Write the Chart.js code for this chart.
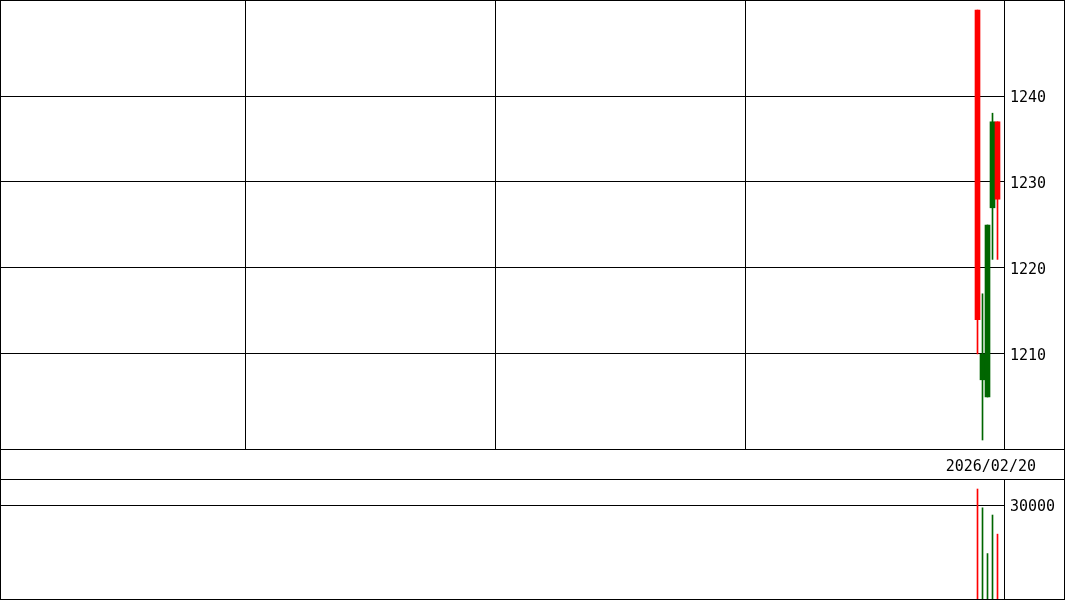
<!DOCTYPE html>
<html lang="ja">
<head>
  <meta charset="UTF-8" />
  <title>株価チャート 2026/02/20</title>
  <script src="https://cdn.jsdelivr.net/npm/chart.js"></script>
  <style>
    html, body { margin: 0; padding: 0; background: #fff; }
    #wrap { position: relative; width: 1065px; height: 600px; overflow: hidden; background: #fff; }
    #priceChart { position: absolute; left: 0; top: 0; }
    #volumeChart { position: absolute; left: 0; top: 480px; }
    #dateBar {
      position: absolute; left: 0; top: 449px; width: 1065px; height: 31px;
      box-sizing: border-box; border-top: 1px solid #000; border-bottom: 1px solid #000;
      font: 15px "DejaVu Sans Mono", monospace; color: #000; overflow: hidden;
      text-align: right; padding-right: 29px; line-height: 32px;
    }
    #frame { position: absolute; left: 0; top: 0; width: 1065px; height: 600px; box-sizing: border-box; border: 1px solid #000; pointer-events: none; }
  </style>
</head>
<body>
<div id="wrap">
  <canvas id="priceChart" width="1065" height="450"></canvas>
  <div id="dateBar"></div>
  <canvas id="volumeChart" width="1065" height="120"></canvas>
  <div id="frame"></div>
</div>

<script>
  // daily candles (yen) and volume
  const dates   = ["2026/02/16", "2026/02/17", "2026/02/18", "2026/02/19", "2026/02/20"];
  const opens   = [1250, 1207, 1205, 1227, 1237];
  const highs   = [1250, 1217, 1225, 1238, 1237];
  const lows    = [1210, 1200, 1205, 1221, 1221];
  const closes  = [1214, 1210, 1225, 1237, 1228];
  const volumes = [35100, 29100, 14500, 26800, 20700];

  const priceTicks  = [1210, 1220, 1230, 1240];
  const volumeTicks = [30000];
  const dividerSlots = [49, 99, 149];   // vertical separators in the price panel

  const GREEN = "#006600";
  const RED = "#ff0000";
  const FONT = { family: "DejaVu Sans Mono", size: 15 };

  // the plot holds 200 day slots of 5px; the data sits in the last ones
  const SLOT_MIN = -0.05;
  const SLOT_MAX = 200.8;
  const xs = dates.map((d, i) => 200 - dates.length + i + 0.5);
  const colors = closes.map((c, i) => c >= opens[i] ? GREEN : RED);

  document.getElementById("dateBar").textContent = dates[dates.length - 1];

  function xAxis(showGrid) {
    return {
      type: "linear", min: SLOT_MIN, max: SLOT_MAX, offset: false,
      grid: { display: showGrid, offset: false, color: "#000", lineWidth: 1, drawTicks: false },
      border: { display: showGrid, color: "#000" },
      ticks: { display: false },
      afterBuildTicks: s => { s.ticks = showGrid ? dividerSlots.map(v => ({ value: v })) : []; },
      afterFit: s => { s.height = 1; s.paddingLeft = 0; s.paddingRight = 0; }
    };
  }

  function yAxis(min, max, ticks) {
    return {
      position: "right", min: min, max: max, beginAtZero: false,
      grid: { color: "#000", lineWidth: 1, drawTicks: false },
      border: { display: true, color: "#000" },
      ticks: { color: "#000", padding: 6, labelOffset: 2, font: FONT, callback: v => String(v) },
      afterBuildTicks: s => { s.ticks = ticks.map(v => ({ value: v })); },
      afterFit: s => { s.width = 61; s.paddingTop = 0; s.paddingBottom = 0; }
    };
  }

  const common = {
    responsive: false,
    animation: false,
    devicePixelRatio: 1,
    layout: { padding: 0 },
    plugins: { legend: { display: false }, tooltip: { enabled: false } }
  };

  new Chart(document.getElementById("priceChart"), {
    type: "bar",
    data: {
      datasets: [
        {
          label: "body",
          data: xs.map((x, i) => ({ x: x, y: [opens[i], closes[i]] })),
          backgroundColor: colors, borderWidth: 0,
          barThickness: 5, grouped: false, order: 1
        },
        {
          label: "wick",
          data: xs.map((x, i) => ({ x: x, y: [lows[i], highs[i]] })),
          backgroundColor: colors, borderWidth: 0,
          barThickness: 1, grouped: false, order: 2
        }
      ]
    },
    options: Object.assign({}, common, {
      scales: { x: xAxis(true), y: yAxis(1198.953, 1251.163, priceTicks) }
    })
  });

  new Chart(document.getElementById("volumeChart"), {
    type: "bar",
    data: {
      datasets: [{
        label: "volume",
        data: xs.map((x, i) => ({ x: x, y: volumes[i] })),
        backgroundColor: colors, borderWidth: 0,
        barThickness: 1, grouped: false
      }]
    },
    options: Object.assign({}, common, {
      scales: { x: xAxis(false), y: yAxis(0, 37979, volumeTicks) }
    })
  });
</script>
</body>
</html>
